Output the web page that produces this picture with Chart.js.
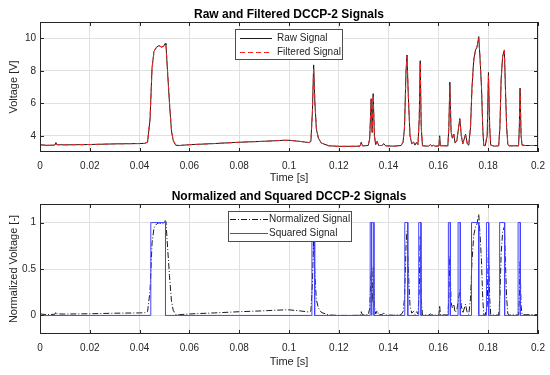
<!DOCTYPE html>
<html>
<head>
<meta charset="utf-8">
<script src="https://cdn.jsdelivr.net/npm/chart.js@4.4.1/dist/chart.umd.min.js"></script>
<style>
    html, body { margin: 0; padding: 0; background: #fff; }
    #wrap { position: relative; width: 550px; height: 375px; }
    .panel { position: absolute; left: 0; width: 550px; }
</style>
</head>
<body>
<div id="wrap">
    <div class="panel" style="top:0;height:185px"><canvas id="rawChart" width="550" height="185"></canvas></div>
    <div class="panel" style="top:185px;height:190px"><canvas id="normChart" width="550" height="190"></canvas></div>
</div>
<script>
// time base [s] shared by raw / filtered / normalized traces
const timeS = [0, 0.002, 0.004, 0.006, 0.0064, 0.0068, 0.01, 0.02, 0.03, 0.04, 0.042, 0.0432, 0.0442, 0.045, 0.0458, 0.0468, 0.0478, 0.0488, 0.0496, 0.0503, 0.0506, 0.051, 0.052, 0.0528, 0.0535, 0.0545, 0.056, 0.06, 0.07, 0.08, 0.09, 0.098, 0.1, 0.104, 0.108, 0.1088, 0.1094, 0.1099, 0.1104, 0.111, 0.1118, 0.113, 0.116, 0.12, 0.125, 0.1285, 0.129, 0.1295, 0.1318, 0.1324, 0.133, 0.1334, 0.1338, 0.1343, 0.1348, 0.1354, 0.136, 0.1374, 0.138, 0.1388, 0.142, 0.145, 0.1458, 0.1464, 0.147, 0.1474, 0.1479, 0.1486, 0.1493, 0.15, 0.1506, 0.1512, 0.1518, 0.1523, 0.1527, 0.1531, 0.1536, 0.156, 0.1568, 0.1574, 0.158, 0.1586, 0.1602, 0.1605, 0.1608, 0.1638, 0.1642, 0.1646, 0.1651, 0.1656, 0.1662, 0.1667, 0.1674, 0.1681, 0.1686, 0.1692, 0.1698, 0.1709, 0.1716, 0.1722, 0.1729, 0.1735, 0.1742, 0.1749, 0.1755, 0.1762, 0.1767, 0.1773, 0.1778, 0.1782, 0.1788, 0.1796, 0.1801, 0.1806, 0.181, 0.1825, 0.1842, 0.1847, 0.1852, 0.1858, 0.1865, 0.1869, 0.1874, 0.1879, 0.1885, 0.1922, 0.1925, 0.1928, 0.1932, 0.1936, 0.195, 0.2];

const rawV = [3.45, 3.42, 3.41, 3.43, 3.58, 3.45, 3.44, 3.46, 3.50, 3.52, 3.53, 3.6, 5.0, 8.2, 9.2, 9.45, 9.55, 9.45, 9.5, 9.68, 9.6, 8.5, 6.0, 4.3, 3.7, 3.42, 3.40, 3.45, 3.52, 3.6, 3.66, 3.72, 3.72, 3.66, 3.58, 3.65, 5.5, 8.36, 6.0, 4.4, 3.85, 3.55, 3.38, 3.35, 3.35, 3.36, 3.6, 3.38, 3.4, 3.8, 6.28, 4.2, 6.59, 4.0, 3.45, 3.66, 3.4, 3.4, 3.52, 3.38, 3.36, 3.4, 3.6, 4.5, 8.0, 8.97, 6.5, 4.0, 3.5, 3.62, 3.42, 3.6, 3.45, 5.0, 8.62, 4.5, 3.38, 3.36, 3.45, 3.36, 3.42, 3.36, 3.37, 4.0, 3.38, 3.38, 4.5, 7.3, 4.2, 3.85, 4.1, 3.55, 3.7, 4.5, 5.06, 4.0, 3.5, 4.1, 3.5, 3.42, 4.5, 7.0, 8.7, 9.28, 9.45, 10.1, 8.8, 7.0, 4.5, 3.4, 3.38, 4.0, 7.89, 4.5, 3.42, 3.36, 3.38, 4.5, 7.5, 8.9, 9.28, 7.0, 4.5, 3.45, 3.38, 3.38, 4.5, 6.93, 4.0, 3.42, 3.4, 3.4];

const filteredV = [3.44, 3.42, 3.41, 3.43, 3.50, 3.45, 3.44, 3.46, 3.50, 3.52, 3.53, 3.62, 5.1, 8.1, 9.2, 9.45, 9.55, 9.47, 9.5, 9.62, 9.55, 8.6, 6.1, 4.35, 3.72, 3.43, 3.40, 3.45, 3.52, 3.6, 3.66, 3.72, 3.72, 3.66, 3.58, 3.66, 5.4, 8.2, 6.1, 4.45, 3.86, 3.55, 3.38, 3.35, 3.35, 3.36, 3.56, 3.38, 3.4, 3.8, 6.2, 4.3, 6.5, 4.05, 3.46, 3.64, 3.4, 3.4, 3.5, 3.38, 3.36, 3.4, 3.6, 4.6, 7.9, 8.9, 6.6, 4.05, 3.5, 3.6, 3.43, 3.58, 3.46, 5.0, 8.5, 4.6, 3.39, 3.36, 3.44, 3.36, 3.41, 3.36, 3.37, 3.9, 3.39, 3.38, 4.6, 7.1, 4.3, 3.86, 4.08, 3.57, 3.7, 4.5, 5.0, 4.05, 3.52, 4.05, 3.52, 3.43, 4.6, 6.9, 8.6, 9.25, 9.45, 10.0, 8.9, 7.1, 4.6, 3.45, 3.39, 4.1, 7.7, 4.6, 3.43, 3.36, 3.38, 4.6, 7.4, 8.85, 9.25, 7.1, 4.6, 3.47, 3.38, 3.38, 4.5, 6.8, 4.1, 3.43, 3.4, 3.4];

const normV = [0.016, 0.011, 0.010, 0.013, 0.037, 0.016, 0.015, 0.018, 0.024, 0.027, 0.029, 0.040, 0.266, 0.782, 0.944, 0.984, 1.0, 0.984, 0.992, 1.021, 1.008, 0.831, 0.427, 0.153, 0.056, 0.011, 0.008, 0.016, 0.027, 0.040, 0.050, 0.060, 0.060, 0.050, 0.037, 0.048, 0.347, 0.808, 0.427, 0.169, 0.081, 0.032, 0.005, 0.0, 0.0, 0.002, 0.040, 0.005, 0.008, 0.073, 0.473, 0.137, 0.523, 0.105, 0.016, 0.050, 0.008, 0.008, 0.027, 0.005, 0.002, 0.008, 0.040, 0.185, 0.750, 0.906, 0.508, 0.105, 0.024, 0.044, 0.011, 0.040, 0.016, 0.266, 0.850, 0.185, 0.005, 0.002, 0.016, 0.002, 0.011, 0.002, 0.003, 0.105, 0.005, 0.005, 0.185, 0.637, 0.137, 0.081, 0.121, 0.032, 0.056, 0.185, 0.276, 0.105, 0.024, 0.121, 0.024, 0.011, 0.185, 0.589, 0.863, 0.956, 0.984, 1.089, 0.879, 0.589, 0.185, 0.008, 0.005, 0.105, 0.732, 0.185, 0.011, 0.002, 0.005, 0.185, 0.669, 0.895, 0.956, 0.589, 0.185, 0.016, 0.005, 0.005, 0.185, 0.577, 0.105, 0.011, 0.008, 0.008];

// squared (thresholded) signal: corner points of the pulses
const sqTimes = [0, 0.0445, 0.0445, 0.0504, 0.0504, 0.1092, 0.1092, 0.1103, 0.1103, 0.1326, 0.1326, 0.1331, 0.1331, 0.1333, 0.1333, 0.1341, 0.1341, 0.1465, 0.1465, 0.1477, 0.1477, 0.1521, 0.1521, 0.1530, 0.1530, 0.1640, 0.1640, 0.1648, 0.1648, 0.1679, 0.1679, 0.1688, 0.1688, 0.1733, 0.1733, 0.1762, 0.1762, 0.1793, 0.1793, 0.1802, 0.1802, 0.1846, 0.1846, 0.1866, 0.1866, 0.1920, 0.1920, 0.1929, 0.1929, 0.2];
const sqLevels = [0, 0, 1, 1, 0, 0, 1, 1, 0, 0, 1, 1, 0, 0, 1, 1, 0, 0, 1, 1, 0, 0, 1, 1, 0, 0, 1, 1, 0, 0, 1, 1, 0, 0, 1, 1, 0, 0, 1, 1, 0, 0, 1, 1, 0, 0, 1, 1, 0, 0];

const xTicks = [0, 0.02, 0.04, 0.06, 0.08, 0.1, 0.12, 0.14, 0.16, 0.18, 0.2];
const yTicksRaw = [4, 6, 8, 10];
const yTicksNorm = [0, 0.5, 1];

const FONT = '"Liberation Sans", Arial, Helvetica, sans-serif';
const INK = '#262626';
const BLUE = '#4444ff';
const RED = '#ff2020';
const DARK = '#1a1a1a';
const DASH = [5, 3];
const DASHDOT = [6, 2, 1, 2];

// in-plot legend boxes, kept outside chart options so nothing gets re-resolved
const legends = {
    rawChart: {
        x: 235, y: 29, w: 107, h: 30, rowTop: 9, rowGap: 13.5, lineFrom: 5, lineTo: 37, textAt: 42,
        items: [['Raw Signal', DARK, []], ['Filtered Signal', RED, DASH]]
    },
    normChart: {
        x: 228, y: 26, w: 123, h: 30, rowTop: 7.5, rowGap: 14.5, lineFrom: 2, lineTo: 40, textAt: 41,
        items: [['Normalized Signal', DARK, DASHDOT], ['Squared Signal', BLUE, []]]
    }
};

function pairs(xs, ys) {
    return xs.map((x, i) => ({ x, y: ys[i] }));
}

// box around the axes, inward tick marks and the legend (matlab look)
const matlabFrame = {
    id: 'matlabFrame',
    afterDatasetsDraw(chart) {
        const { ctx, chartArea: a, scales } = chart;
        ctx.save();
        ctx.strokeStyle = INK;
        ctx.lineWidth = 1;
        ctx.strokeRect(a.left + 0.5, a.top + 0.5, a.right - a.left - 1, a.bottom - a.top - 1);
        ctx.beginPath();
        scales.x.ticks.forEach(t => {
            const px = Math.round(scales.x.getPixelForValue(t.value)) + 0.5;
            ctx.moveTo(px, a.bottom); ctx.lineTo(px, a.bottom - 4);
            ctx.moveTo(px, a.top); ctx.lineTo(px, a.top + 4);
        });
        scales.y.ticks.forEach(t => {
            const py = Math.round(scales.y.getPixelForValue(t.value)) + 0.5;
            ctx.moveTo(a.left, py); ctx.lineTo(a.left + 4, py);
            ctx.moveTo(a.right, py); ctx.lineTo(a.right - 4, py);
        });
        ctx.stroke();

        const lg = legends[chart.canvas.id];
        if (lg) {
            ctx.fillStyle = '#fff';
            ctx.fillRect(lg.x, lg.y, lg.w, lg.h);
            ctx.strokeStyle = '#4d4d4d';
            ctx.strokeRect(lg.x + 0.5, lg.y + 0.5, lg.w, lg.h);
            ctx.font = '10px ' + FONT;
            ctx.textBaseline = 'middle';
            lg.items.forEach(([text, color, dash], i) => {
                const y = Math.round(lg.y + lg.rowTop + i * lg.rowGap);
                ctx.setLineDash(dash);
                ctx.strokeStyle = color;
                ctx.beginPath();
                ctx.moveTo(lg.x + lg.lineFrom, y + 0.5);
                ctx.lineTo(lg.x + lg.lineTo, y + 0.5);
                ctx.stroke();
                ctx.setLineDash([]);
                ctx.fillStyle = INK;
                ctx.fillText(text, lg.x + lg.textAt, y);
            });
        }
        ctx.restore();
    }
};

function axisOpts(min, max, tickList, title, titlePad, tPad, fit) {
    return {
        type: 'linear',
        min, max,
        afterBuildTicks: s => { s.ticks = tickList.map(v => ({ value: v })); },
        afterFit: fit,
        border: { display: false },
        grid: { color: '#e0e0e0', drawTicks: false, lineWidth: 1 },
        ticks: {
            color: INK,
            font: { family: FONT, size: 10 },
            padding: tPad,
            autoSkip: false,
            maxRotation: 0,
            callback: v => String(+v.toFixed(4))
        },
        title: { display: true, text: title, color: INK, font: { family: FONT, size: 11 }, padding: titlePad }
    };
}

function baseOptions(cfg) {
    return {
        responsive: false,
        animation: false,
        events: [],
        layout: { padding: { left: 0, right: 12, top: 0, bottom: 0 } },
        elements: { point: { radius: 0 }, line: { tension: 0, borderWidth: 1 } },
        plugins: {
            legend: { display: false },
            tooltip: { enabled: false },
            title: {
                display: true,
                fullSize: false,
                text: cfg.title,
                color: '#000',
                font: { family: FONT, size: 12, weight: 'bold' },
                padding: cfg.titlePad
            }
        },
        scales: {
            // fixed axis band sizes so the plot box lands where the original has it
            x: axisOpts(0, 0.2, xTicks, 'Time [s]', cfg.xTitlePad, 8,
                s => { s.height = cfg.xHeight; s.paddingLeft = 0; s.paddingRight = 0; }),
            y: axisOpts(cfg.yMin, cfg.yMax, cfg.yTicks, cfg.yTitle, { top: 7 }, 4,
                s => { s.width = 40; s.paddingTop = 0; s.paddingBottom = 0; })
        }
    };
}

new Chart(document.getElementById('rawChart'), {
    type: 'line',
    data: {
        datasets: [
            { label: 'Filtered Signal', data: pairs(timeS, filteredV), borderColor: RED, borderDash: DASH, order: 0 },
            { label: 'Raw Signal', data: pairs(timeS, rawV), borderColor: DARK, order: 1 }
        ]
    },
    options: baseOptions({
        title: 'Raw and Filtered DCCP-2 Signals',
        titlePad: { top: 7, bottom: 0.6 },
        xTitlePad: { bottom: 0 },
        xHeight: 33,
        yMin: 3, yMax: 11, yTicks: yTicksRaw,
        yTitle: 'Voltage [V]'
    }),
    plugins: [matlabFrame]
});

new Chart(document.getElementById('normChart'), {
    type: 'line',
    data: {
        datasets: [
            { label: 'Squared Signal', data: pairs(sqTimes, sqLevels), borderColor: BLUE, order: 0 },
            { label: 'Normalized Signal', data: pairs(timeS, normV), borderColor: DARK, borderDash: DASHDOT, order: 1 }
        ]
    },
    options: baseOptions({
        title: 'Normalized and Squared DCCP-2 Signals',
        titlePad: { top: 4, bottom: 0.6 },
        xTitlePad: { bottom: 6.4 },
        xHeight: 41,
        yMin: -0.2, yMax: 1.2, yTicks: yTicksNorm,
        yTitle: 'Normalized Voltage [-]'
    }),
    plugins: [matlabFrame]
});
</script>
</body>
</html>
